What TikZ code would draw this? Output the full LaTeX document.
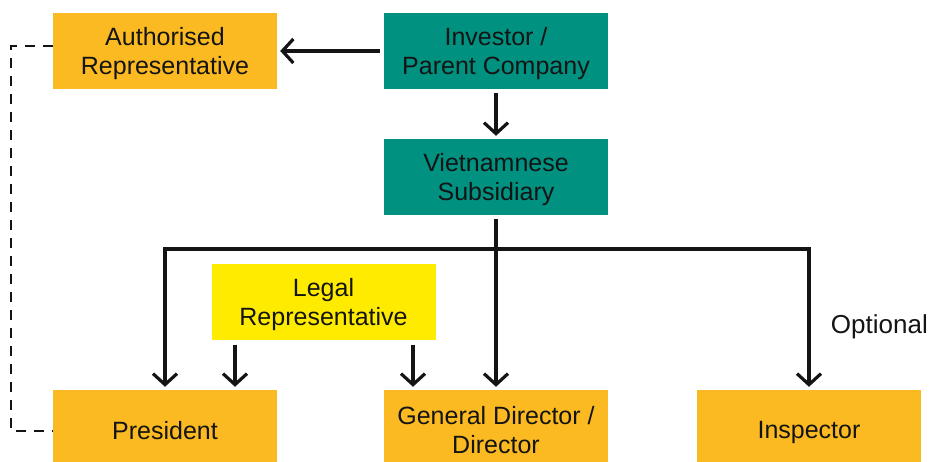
\documentclass[tikz,border=0pt]{standalone}
\usepackage{fontspec}
\setmainfont{Liberation Sans}
\usetikzlibrary{arrows.meta}
\definecolor{boxorange}{HTML}{FBBA22}
\definecolor{boxteal}{HTML}{009180}
\definecolor{boxyellow}{HTML}{FFEB00}
\definecolor{inkgrey}{HTML}{141414}
\begin{document}
\begin{tikzpicture}[x=1pt,y=-1pt,
    box/.style={minimum width=224pt,minimum height=76pt,inner sep=0pt,align=center,text=inkgrey,font=\fontsize{25}{29}\selectfont,text depth=0pt},
    lowbox/.style={box,minimum height=80pt},
    arr/.style={draw=inkgrey,line width=3.2pt,-{Straight Barb[length=11pt,width=24pt]},shorten >=3pt,shorten <=4pt},
    dashline/.style={draw=inkgrey,line width=2.6pt,dash pattern=on 10pt off 8pt}]

    \useasboundingbox (0,0) rectangle (930,461);

    \node[box,fill=boxorange] (auth) at (165,51) {Authorised\\Representative};
    \node[box,fill=boxteal] (investor) at (496,51) {Investor /\\Parent Company};
    \node[box,fill=boxteal] (subsidiary) at (496,177) {Vietnamnese\\Subsidiary};
    \node[box,fill=boxyellow] (legal) at (323.5,301.5) {Legal\\Representative};
    \node[lowbox,fill=boxorange] (president) at (165,430) {President};
    \node[lowbox,fill=boxorange] (director) at (496,430) {General Director /\\Director};
    \node[lowbox,fill=boxorange] (inspector) at (809,430) {Inspector};
    \node[text=inkgrey,font=\fontsize{26}{30}\selectfont,anchor=base east,inner sep=0pt] (optional) at (928,333) {Optional};

    \draw[arr] (investor) -- (auth);
    \draw[arr] (investor) -- (subsidiary);
    \draw[arr] (subsidiary) -- (director);    %% the bus starts on this line
    \coordinate (bus) at (496,249);
    \draw[arr,shorten <=0pt] (bus) -| (president);
    \draw[arr,shorten <=0pt] (bus) -| (inspector);
    \foreach \dx in {-88.5,89.5}{
    \draw[arr,shorten <=5pt] ([xshift=\dx pt]legal.south) -- ([xshift=\dx pt]legal.south |- president.north);
    }
    \draw[dashline] ([yshift=5pt]auth.west) -- ++(-42,0) |- ([yshift=-1pt]president.west);
\end{tikzpicture}
\end{document}
